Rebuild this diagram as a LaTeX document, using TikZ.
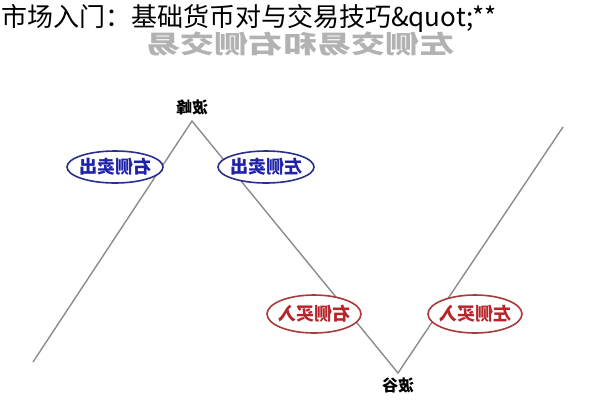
\documentclass[tikz,border=0pt]{standalone}
\usepackage{fontspec}
\newfontfamily\cjk{Noto Sans CJK SC}
\usepackage{tikz}
\usetikzlibrary{shapes.geometric,positioning}
\definecolor{SellBlue}{HTML}{2B2F8C}
\definecolor{SellText}{HTML}{1E22A8}
\definecolor{BuyRed}{HTML}{A83A3A}
\definecolor{BuyText}{HTML}{B8242A}
\definecolor{WaveGray}{HTML}{8C8C8C}
\tikzset{
    x=1pt,y=-1pt,
    wave/.style = {draw=WaveGray, line width=1.4pt},
    sell/.style ={ellipse, draw=SellBlue, line width=1.6pt, fill=white, text=SellText,
                  minimum width=96pt, minimum height=32pt, inner xsep=-7pt, inner ysep=0pt,
                  font=\cjk\bfseries\fontsize{18}{18}\selectfont},
    buy/.style  ={ellipse, draw=BuyRed, line width=1.6pt, fill=white, text=BuyText,
                  minimum width=94pt, minimum height=38pt, inner xsep=-7pt, inner ysep=0pt,
                  font=\cjk\bfseries\fontsize{18}{18}\selectfont},
    extreme/.style = {inner sep=0pt, font=\cjk\bfseries\fontsize{16}{16}\selectfont}
}
\begin{document}
\begin{tikzpicture}
    \useasboundingbox[fill=white] (0,0) rectangle (592,400);
    % Faded mirrored heading, then the title over it
    \node[inner sep=0pt, text=black!30, font=\cjk\bfseries\fontsize{25}{25}\selectfont] (heading) at (300,44)
        {\scalebox{-1.37}[1]{左侧交易和右侧交易}};
    \node[anchor=west, inner sep=0pt, font=\cjk\fontsize{26}{26}\selectfont] (title) at (1,18)
        {市场入门：基础货币对与交易技巧\&quot;**};
    % The price wave
    \coordinate (start)  at (33,362);
    \coordinate (peak)   at (192,121);
    \coordinate (trough) at (398,373);
    \coordinate (finish) at (563,127);
    \draw[wave] (start) -- (peak) -- (trough) -- (finish);
    % Label peak and trough
    \node[extreme] (peaklabel) [above=6pt of peak] {\reflectbox{波峰}};
    \node[extreme] (troughlabel) [below=5pt of trough] {\reflectbox{波谷}};
    % Sell and buy points
    \node[sell] (rightsell) at (115,167) {\reflectbox{右侧卖出}};
    \node[sell] (leftsell)  at (266,167) {\reflectbox{左侧卖出}};
    \node[buy]  (rightbuy)  at (314,314) {\reflectbox{右侧买入}};
    \node[buy]  (leftbuy)   at (475,314) {\reflectbox{左侧买入}};
\end{tikzpicture}
\end{document}
